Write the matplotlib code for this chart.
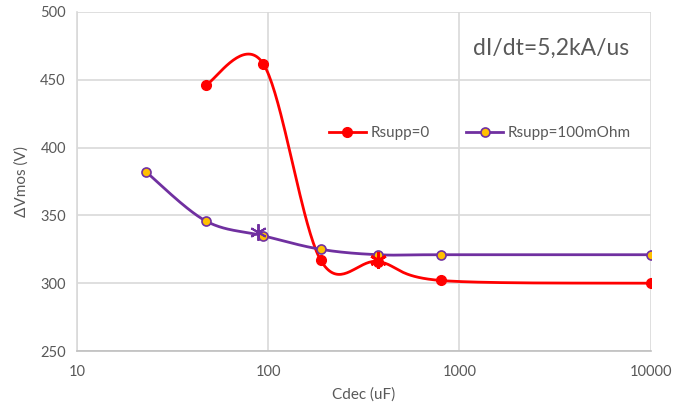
import numpy as np
import matplotlib
matplotlib.use("Agg")
from matplotlib import pyplot as plt

cdec_r0 = [47, 94, 188, 376, 800, 10000]
vmos_r0 = [446, 462, 317, 316, 302, 300]

cdec_r100 = [23, 47, 94, 188, 376, 800, 10000]
vmos_r100 = [382, 346, 335, 325, 321, 321, 321]

# single marked points (asterisks)
star_purple = (88, 338)
star_red = (377, 317)

plt.rcParams["font.family"] = ["Lato", "DejaVu Sans"]
GRAY = "#595959"
RED = "#FF0000"
PURPLE = "#7030A0"
ORANGE = "#FFC000"

fig = plt.figure(figsize=(6.96, 4.09), dpi=100)
ax = fig.add_axes([0.1106, 0.1418, 0.8244, 0.8289])
ax.set_xscale("log")
ax.set_xlim(10, 10000)
ax.set_ylim(250, 500)


def smooth(xs, ys, n=40):
    # Excel-like smoothed line: Catmull-Rom in screen-proportional coords
    u = (np.log10(xs) - 1) / 3 * 574
    v = (np.array(ys, float) - 250) / 250 * 339
    p = np.column_stack([u, v])
    p = np.vstack([p[0], p, p[-1]])
    out = []
    for i in range(1, len(p) - 2):
        p0, p1, p2, p3 = p[i - 1], p[i], p[i + 1], p[i + 2]
        c1 = p1 + (p2 - p0) / 6
        c2 = p2 - (p3 - p1) / 6
        t = np.linspace(0, 1, n)[:, None]
        seg = ((1 - t) ** 3) * p1 + 3 * ((1 - t) ** 2) * t * c1 + 3 * (1 - t) * t ** 2 * c2 + t ** 3 * p2
        out.append(seg)
    out = np.vstack(out)
    return 10 ** (out[:, 0] / 574 * 3 + 1), out[:, 1] / 339 * 250 + 250


sx, sy = smooth(cdec_r0, vmos_r0)
ax.plot(sx, sy, color=RED, lw=2, zorder=3)
sx, sy = smooth(cdec_r100, vmos_r100)
ax.plot(sx, sy, color=PURPLE, lw=2, zorder=3)

ax.plot(cdec_r0, vmos_r0, ls="none", marker="o", ms=7, color=RED, zorder=4)
ax.plot(cdec_r100, vmos_r100, ls="none", marker="o", ms=6.5, mfc=ORANGE, mec=PURPLE, mew=1.2, zorder=4)

ax.plot(*star_purple, marker=(6, 2, 0), ms=12, color=PURPLE, mew=1.4, zorder=5)
ax.plot(*star_red, marker=(6, 2, 0), ms=12, color=RED, mew=2, zorder=5)

# legend handles
ax.plot([], [], color=RED, lw=2, marker="o", ms=7, label="Rsupp=0")
ax.plot([], [], color=PURPLE, lw=2, marker="o", ms=6.5, mfc=ORANGE, mec=PURPLE, mew=1.2, label="Rsupp=100mOhm")
h, l = ax.get_legend_handles_labels()
leg = ax.legend(h, l, ncol=2, frameon=False, loc="center", bbox_to_anchor=(0.702, 0.643),
                fontsize=11, handlelength=2.4, handletextpad=0.3, columnspacing=2.4, labelcolor=GRAY)

ax.text(0.826, 0.894, "dI/dt=5,2kA/us", transform=ax.transAxes, ha="center", va="center",
        fontsize=16.5, color=GRAY)

ax.set_xticks([10, 100, 1000, 10000])
ax.set_xticklabels(["10", "100", "1000", "10000"])
ax.xaxis.set_minor_locator(matplotlib.ticker.NullLocator())
ax.set_yticks([250, 300, 350, 400, 450, 500])
ax.grid(True, color="#D9D9D9", lw=1.2)
ax.set_axisbelow(True)
for s in ax.spines.values():
    s.set_visible(False)
ax.spines["left"].set_visible(True)
ax.spines["bottom"].set_visible(True)
ax.spines["left"].set_color("#D9D9D9")
ax.spines["bottom"].set_color("#BFBFBF")
ax.spines["left"].set_linewidth(1.2)
ax.spines["bottom"].set_linewidth(1.2)
ax.tick_params(length=0, colors=GRAY, labelsize=10.5, pad=10)
ax.tick_params(axis="y", pad=8)

ax.set_xlabel("Cdec (uF)", color=GRAY, fontsize=11, labelpad=6)
ax.set_ylabel("ΔVmos (V)", color=GRAY, fontsize=11, labelpad=8)

fig.savefig("out.png", dpi=100)
